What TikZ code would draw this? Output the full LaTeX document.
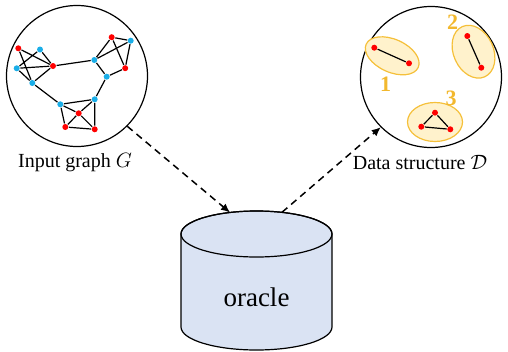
\documentclass[tikz,border=0pt]{standalone}
\usepackage{amsmath}
\usepackage{fontspec}
\setmainfont{Liberation Serif}
\usetikzlibrary{arrows.meta, shapes.geometric}

\definecolor{dotred}{HTML}{FF0000}
\definecolor{dotblue}{HTML}{1AAEE8}
\definecolor{grpfill}{HTML}{FFF2CC}
\definecolor{grpline}{HTML}{F5C03A}
\definecolor{grptext}{HTML}{F2B82E}
\definecolor{dbfill}{HTML}{DAE3F3}

\begin{document}
\begin{tikzpicture}[x=1pt,y=-1pt,line width=1.2pt]

		\tikzset{vr/.style={circle, fill=dotred, inner sep=0pt, minimum size=6pt},
				 vb/.style={circle, fill=dotblue, inner sep=0pt, minimum size=6pt},
				 bag/.style={circle, draw, line width=1.2pt, inner sep=0pt, minimum size=141pt},
				 grp/.style={ellipse, draw=grpline, fill=grpfill, line width=1.2pt, inner sep=0pt},
				 grpnum/.style={text=grptext, font=\fontsize{22}{26}\selectfont\bfseries},
				 caption/.style={font=\fontsize{20}{24}\selectfont},
				 flow/.style={dashed, dash pattern=on 7pt off 5pt, line width=1.5pt,
							  -{Latex[length=9pt,width=8pt]}}}

		\useasboundingbox (0,0) rectangle (508,351);

		% input graph
		\node[bag] (inG) at (77,76) {};
		\node[vr] (r1) at (18.3,48.3) {};
		\node[vb] (b1) at (40,49.5) {};
		\node[vb] (b2) at (16.7,68.3) {};
		\node[vr] (r2) at (53,66) {};
		\node[vb] (b3) at (32.3,83) {};
		\node[vr] (r3) at (111.7,37.2) {};
		\node[vb] (b5) at (130.7,40.7) {};
		\node[vb] (b4) at (94.3,60) {};
		\node[vr] (r4) at (125.2,68.2) {};
		\node[vb] (b6) at (106.7,76.7) {};
		\node[vb] (b7) at (94.7,99.3) {};
		\node[vb] (b8) at (60.3,104.3) {};
		\node[vr] (r5) at (78.7,113.3) {};
		\node[vr] (r6) at (65.3,127) {};
		\node[vr] (r7) at (94.7,129.3) {};

		\draw (r1) -- (r2) (r1) -- (b3) (b1) -- (b2) (b1) -- (r2)
			  (b2) -- (r2) (b2) -- (b3) (b3) -- (r2);
		\draw (r2) -- (b4) (b3) -- (b8) (b4) -- (b6) (b6) -- (r4) (b6) -- (b7);
		\draw (b4) -- (r3) (b4) -- (b5) (r3) -- (b5) (r3) -- (r4) (b5) -- (r4);
		\draw (b8) -- (b7) (b8) -- (r5) (b8) -- (r6) (b7) -- (r5)
			  (b7) -- (r7) (r5) -- (r6) (r5) -- (r7) (r6) -- (r7);

		\node[caption] (capG) at (75,163) {Input graph $G$};

		% data structure
		\node[bag] (inD) at (431,77) {};
		\node[grp, minimum width=57pt, minimum height=33pt, rotate=-24] (g1) at (392.2,55.8) {};
		\node[grp, minimum width=55pt, minimum height=40pt, rotate=-66] (g2) at (473.5,51.7) {};
		\node[grp, minimum width=55pt, minimum height=39pt] (g3) at (435,122) {};

		\node[vr] (d1) at (374.3,47.7) {};
		\node[vr] (d2) at (409,63.3) {};
		\node[vr] (d3) at (467.3,36) {};
		\node[vr] (d4) at (481.3,67.7) {};
		\node[vr] (d5) at (435,112.7) {};
		\node[vr] (d6) at (421.3,126.7) {};
		\node[vr] (d7) at (450.3,129.3) {};
		\draw (d1) -- (d2) (d3) -- (d4) (d5) -- (d6) (d6) -- (d7) (d7) -- (d5);

		\node[grpnum] (n1) at (385.7,84) {1};
		\node[grpnum] (n2) at (452.7,22.7) {2};
		\node[grpnum] (n3) at (451,98.3) {3};

		\node[caption] (capD) at (420,163) {Data structure $\mathcal{D}$};

		% oracle
		\filldraw[fill=dbfill] (181,234) -- (181,327)
			arc[start angle=180, end angle=360, x radius=75.5pt, y radius=23pt]
			-- (332,234)
			arc[start angle=0, end angle=180, x radius=75.5pt, y radius=23pt] -- cycle;
		\draw (256.5,234) ellipse [x radius=75.5pt, y radius=23pt];
		\node[font=\fontsize{27}{32}\selectfont] (oracle) at (256.5,297) {oracle};
		\coordinate (topL) at (230,212.5);
		\coordinate (topR) at (282,212.3);

		\draw[flow] (inG.-45) -- (topL);
		\draw[flow] (topR) -- (inD.225);
\end{tikzpicture}
\end{document}
